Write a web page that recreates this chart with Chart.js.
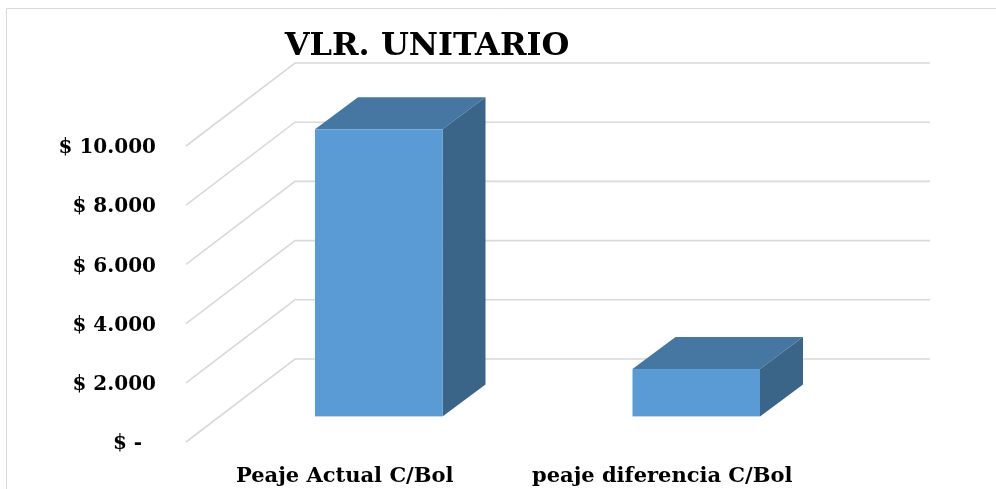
<!DOCTYPE html>
<html>
<head>
<meta charset="utf-8">
<script src="https://cdn.jsdelivr.net/npm/chart.js@4.4.1/dist/chart.umd.min.js"></script>
<style>
  html, body { margin: 0; padding: 0; background: #fff; }
  #wrap { width: 996px; height: 489px; }
</style>
</head>
<body>
<div id="wrap"><canvas id="vlrChart" width="996" height="489"></canvas></div>
<script>
// datos del gráfico
const categories = ['Peaje Actual C/Bol', 'peaje diferencia C/Bol']
const values = [9700, 1600]
const yTicks = [0, 2000, 4000, 6000, 8000, 10000]
const tickLabels = ['$ -  ', '$ 2.000', '$ 4.000', '$ 6.000', '$ 8.000', '$ 10.000']
const chartTitle = 'VLR. UNITARIO'

// profundidad de la "caja" 3D (pared trasera) y de las barras
const WALL_DX = 109, WALL_DY = -83
const BAR_FX = 34, BAR_FY = -25.6
const BAR_DX = 43, BAR_DY = -32
const FRONT = '#5B9BD5', TOP = '#4677A2', SIDE = '#3A6588'
const GRID = '#d9d9d9'
const FONT = '"DejaVu Serif", "Liberation Serif", serif'

const fake3d = {
  id: 'fake3d',
  beforeDraw(chart) {
    const ctx = chart.ctx
    ctx.save()
    // marco del gráfico
    ctx.strokeStyle = GRID
    ctx.lineWidth = 1
    ctx.beginPath()
    ctx.moveTo(6.5, 489); ctx.lineTo(6.5, 8.5); ctx.lineTo(996, 8.5)
    ctx.stroke()
    // título
    ctx.fillStyle = '#000'
    ctx.font = 'bold 32px ' + FONT
    ctx.textAlign = 'center'
    ctx.textBaseline = 'alphabetic'
    ctx.fillText(chartTitle, 427, 55)
    ctx.restore()
  },
  beforeDatasetsDraw(chart) {
    const ctx = chart.ctx
    const y = chart.scales.y
    const area = chart.chartArea
    ctx.save()
    // líneas de la pared lateral y trasera
    ctx.strokeStyle = GRID
    ctx.lineWidth = 1.6
    y.ticks.forEach(tk => {
      const py = y.getPixelForValue(tk.value)
      ctx.beginPath()
      ctx.moveTo(area.left, py)
      ctx.lineTo(area.left + WALL_DX, py + WALL_DY)
      ctx.lineTo(area.right + WALL_DX, py + WALL_DY)
      ctx.stroke()
    })
    // barras 3D a partir de los elementos calculados por Chart.js
    chart.getDatasetMeta(0).data.forEach(el => {
      const l = el.x - el.width / 2 + BAR_FX
      const r = el.x + el.width / 2 + BAR_FX
      const t = el.y + BAR_FY
      const b = el.base + BAR_FY
      ctx.fillStyle = TOP
      ctx.beginPath()
      ctx.moveTo(l, t); ctx.lineTo(l + BAR_DX, t + BAR_DY); ctx.lineTo(r + BAR_DX, t + BAR_DY); ctx.lineTo(r, t)
      ctx.closePath(); ctx.fill()
      ctx.fillStyle = SIDE
      ctx.beginPath()
      ctx.moveTo(r, t); ctx.lineTo(r + BAR_DX, t + BAR_DY); ctx.lineTo(r + BAR_DX, b + BAR_DY); ctx.lineTo(r, b)
      ctx.closePath(); ctx.fill()
      ctx.fillStyle = FRONT
      ctx.fillRect(l, t, r - l, b - t)
    })
    ctx.restore()
    return false
  },
}

new Chart(document.getElementById('vlrChart'), {
  type: 'bar',
  data: {
    labels: categories,
    datasets: [{ data: values, backgroundColor: FRONT, categoryPercentage: 0.8, barPercentage: 0.502 }],
  },
  options: {
    responsive: false,
    animation: false,
    layout: { padding: { top: 146, right: 175, bottom: 0, left: 0 } },
    plugins: { legend: { display: false }, title: { display: false }, tooltip: { enabled: false } },
    scales: {
      x: {
        grid: { display: false, drawTicks: false },
        border: { display: false },
        ticks: { color: '#000', padding: 22, font: { family: FONT, size: 21, weight: 'bold' } },
        afterFit: (s) => { s.height = 47 },
      },
      y: {
        min: 0,
        max: 10000,
        grid: { display: false, drawTicks: false },
        border: { display: false },
        ticks: {
          stepSize: 2000,
          padding: 30,
          labelOffset: 2,
          color: '#000',
          font: { family: FONT, size: 20, weight: 'bold' },
          callback: (v, i) => tickLabels[yTicks.indexOf(v)] ?? tickLabels[i],
        },
        afterFit: (s) => { s.width = 186 },
      },
    },
  },
  plugins: [fake3d],
})
</script>
</body>
</html>
